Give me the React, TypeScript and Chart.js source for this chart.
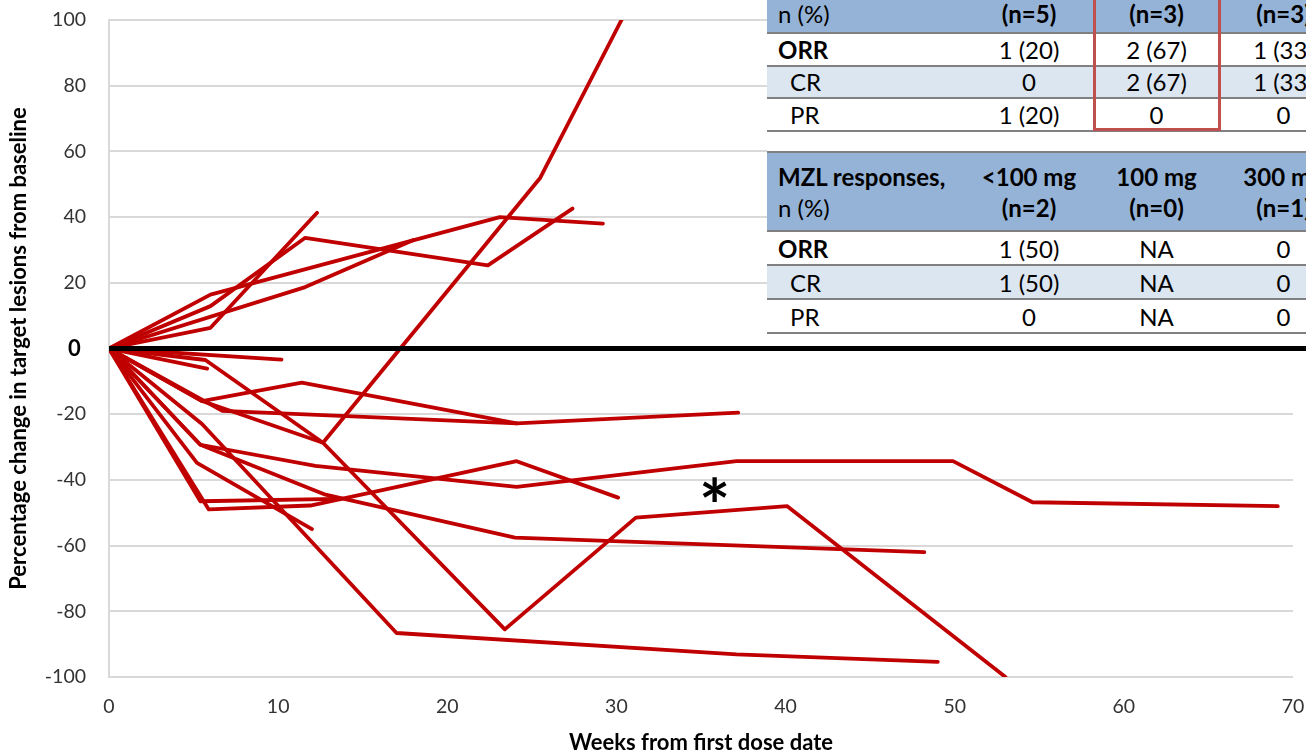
import React, { useEffect, useRef } from 'react';
import { Chart, registerables } from 'chart.js';

Chart.register(...registerables);

// ---- Axis ticks ----
const xTicks = [0, 10, 20, 30, 40, 50, 60, 70];
const yTicks = [-100, -80, -60, -40, -20, 0, 20, 40, 60, 80, 100];

// ---- Patient series: weeks from first dose / % change from baseline ----
const weeksA = [0, 6, 12.3];
const pctA = [0, 6.3, 41.3];
const weeksB = [0, 6, 11.6, 22.4, 27.4];
const pctB = [0, 12.9, 33.7, 25.3, 42.6];
const weeksC = [0, 11.6, 18];
const pctC = [0, 18.7, 33];
const weeksD = [0, 6, 23.1, 29.2];
const pctD = [0, 16.4, 40, 38];
const weeksE = [0, 10.2];
const pctE = [0, -3.4];
const weeksF = [0, 5.8];
const pctF = [0, -6.1];
const weeksG = [0, 5.7, 12.65, 25.5, 30.3];
const pctG = [0, -3.5, -28.7, 52, 100];
const weeksH = [0, 5.5, 11.4, 24.1];
const pctH = [0, -16, -10.4, -22.8];
const weeksI = [0, 6.7, 12.3, 24.1, 37.2];
const pctI = [0, -19, -20.2, -22.8, -19.5];
const weeksJ = [0, 5.5, 12.65, 23.4, 31.15, 40.1, 53];
const pctJ = [0, -16, -28.7, -85.5, -51.5, -48, -100];
const weeksK = [0, 5.4, 12.8, 24, 48.2];
const pctK = [0, -29.3, -44.5, -57.6, -62];
const weeksL = [0, 5.4, 12.2, 24.1, 37.1, 49.9, 54.6, 69.1];
const pctL = [0, -29.3, -35.7, -42.1, -34.3, -34.3, -46.8, -48];
const weeksM = [0, 5.4, 13.5];
const pctM = [0, -46.5, -45.8];
const weeksN = [0, 5.9, 11.9, 24.1, 30.1];
const pctN = [0, -49, -47.8, -34.3, -45.4];
const weeksO = [0, 5.2, 12];
const pctO = [0, -34.8, -55];
const weeksP = [0, 5.5, 17, 37.1, 49];
const pctP = [0, -23, -86.6, -93.1, -95.4];

const seriesWeeks = [weeksA, weeksB, weeksC, weeksD, weeksE, weeksF, weeksG, weeksH, weeksI, weeksJ, weeksK, weeksL, weeksM, weeksN, weeksO, weeksP];
const seriesPct = [pctA, pctB, pctC, pctD, pctE, pctF, pctG, pctH, pctI, pctJ, pctK, pctL, pctM, pctN, pctO, pctP];

// asterisk annotation (data coordinates)
const noteText = '*';
const noteWeek = 35.8;
const notePct = -43;

// ---- Tables ----
const fl_header = ['n (%)', '(n=5)', '(n=3)', '(n=3)'];
const fl_rows = [
  ['ORR', '1 (20)', '2 (67)', '1 (33)'],
  ['CR', '0', '2 (67)', '1 (33)'],
  ['PR', '1 (20)', '0', '0'],
];
const mzl_header1 = ['MZL responses,', '<100 mg', '100 mg', '300 mg'];
const mzl_header2 = ['n (%)', '(n=2)', '(n=0)', '(n=1)'];
const mzl_rows = [
  ['ORR', '1 (50)', 'NA', '0'],
  ['CR', '1 (50)', 'NA', '0'],
  ['PR', '0', 'NA', '0'],
];

const FONT = 'Lato, "Open Sans", sans-serif';
const COLS = [198, 128, 127, 127];
const HEADER_BG = '#95B3D7';
const ALT_BG = '#DCE6F1';
const LINE = '#808080';

function CellRow(props: { cells: string[]; top: number; height: number; bg: string; header?: boolean; align?: string }) {
  const { cells, top, height, bg, header } = props;
  return (
    <div style={{ position: 'absolute', left: 0, top, height, width: 580, background: bg, display: 'flex', alignItems: props.align || 'center' }}>
      {cells.map((c, i) => {
        const isLabel = i === 0;
        const bold = header ? i > 0 : c === 'ORR';
        const indent = !header && isLabel && (c === 'CR' || c === 'PR') ? 23 : 11;
        return (
          <div key={i} style={{ width: COLS[i], flex: 'none', boxSizing: 'border-box', paddingLeft: isLabel ? indent : 0, textAlign: isLabel ? 'left' : 'center', fontWeight: bold ? 700 : 400, whiteSpace: 'nowrap', lineHeight: '27px' }}>{c}</div>
        );
      })}
    </div>
  );
}

function HLine(props: { y: number }) {
  return <div style={{ position: 'absolute', left: 0, top: props.y - 1, width: 580, height: 2, background: LINE }} />;
}

function Tables() {
  const t1Tops = [34, 66, 99];
  const t1H = [31, 31, 31];
  const t2Tops = [232, 266, 300];
  const t2H = [32, 32, 32];
  return (
    <div style={{ position: 'absolute', left: 767, top: 0, width: 580, height: 334, background: '#fff', fontFamily: FONT, fontSize: 24, color: '#000' }}>
      {/* FL table */}
      <CellRow cells={fl_header} top={0} height={32} bg={HEADER_BG} header align="flex-start" />
      {fl_rows.map((r, i) => (
        <CellRow key={i} cells={r} top={t1Tops[i]} height={t1H[i]} bg={i === 1 ? ALT_BG : '#fff'} />
      ))}
      <HLine y={33} />
      <HLine y={65.5} />
      <HLine y={98} />
      <HLine y={130.5} />
      {/* MZL table */}
      <div style={{ position: 'absolute', left: 0, top: 153, height: 77, width: 580, background: HEADER_BG, display: 'flex', alignItems: 'center' }}>
        {mzl_header1.map((h, i) => (
          <div key={i} style={{ width: COLS[i], flex: 'none', boxSizing: 'border-box', paddingLeft: i === 0 ? 11 : 0, textAlign: i === 0 ? 'left' : 'center', whiteSpace: 'nowrap', lineHeight: '31px' }}>
            <div style={{ fontWeight: 700 }}>{h}</div>
            <div style={{ fontWeight: i === 0 ? 400 : 700 }}>{mzl_header2[i]}</div>
          </div>
        ))}
      </div>
      {mzl_rows.map((r, i) => (
        <CellRow key={i} cells={r} top={t2Tops[i]} height={t2H[i]} bg={i === 1 ? ALT_BG : '#fff'} />
      ))}
      <HLine y={152} />
      <HLine y={231} />
      <HLine y={265} />
      <HLine y={299} />
      <HLine y={333} />
      {/* highlight box */}
      <div style={{ position: 'absolute', left: 326, top: -10, width: 128, height: 141, border: '3px solid #C0504D', boxSizing: 'border-box' }} />
    </div>
  );
}

const zeroLinePlugin = {
  id: 'zeroLine',
  afterDatasetsDraw(chart: any) {
    const { ctx, chartArea, scales } = chart;
    const y = scales.y.getPixelForValue(0);
    ctx.save();
    ctx.strokeStyle = '#000';
    ctx.lineWidth = 5;
    ctx.beginPath();
    ctx.moveTo(chartArea.left, y);
    ctx.lineTo(chart.width, y);
    ctx.stroke();
    ctx.restore();
  },
};

const notePlugin = {
  id: 'note',
  afterDatasetsDraw(chart: any) {
    const { ctx, scales } = chart;
    const cx = scales.x.getPixelForValue(noteWeek);
    const cy = scales.y.getPixelForValue(notePct);
    ctx.save();
    ctx.font = `bold 100px ${FONT}`;
    const m = ctx.measureText(noteText);
    const h = (m.actualBoundingBoxAscent + m.actualBoundingBoxDescent) || 40;
    const size = (100 * 25) / h;
    ctx.font = `bold ${size}px ${FONT}`;
    const m2 = ctx.measureText(noteText);
    ctx.fillStyle = '#000';
    ctx.textAlign = 'center';
    ctx.textBaseline = 'alphabetic';
    ctx.fillText(noteText, cx, cy + (m2.actualBoundingBoxAscent - m2.actualBoundingBoxDescent) / 2);
    ctx.restore();
  },
};

const noPadding = (s: any) => {
  s.paddingTop = 0;
  s.paddingBottom = 0;
  s.paddingLeft = 0;
  s.paddingRight = 0;
};

export default function App() {
  const ref = useRef<HTMLCanvasElement | null>(null);

  useEffect(() => {
    if (!ref.current) return;
    const datasets = seriesWeeks.map((w, i) => ({
      label: 'Patient ' + (i + 1),
      data: w.map((x, j) => ({ x, y: seriesPct[i][j] })),
      showLine: true,
      borderColor: '#C00000',
      backgroundColor: '#C00000',
      borderWidth: 3.8,
      pointRadius: 0,
      pointHoverRadius: 0,
      tension: 0,
      borderCapStyle: 'round',
      borderJoinStyle: 'round',
    }));
    const chart = new Chart(ref.current, {
      type: 'scatter',
      data: { datasets: datasets as any },
      options: {
        animation: false,
        responsive: false,
        devicePixelRatio: 1,
        events: [],
        layout: { padding: { top: 20, right: 13, left: 0, bottom: 0 } },
        plugins: { legend: { display: false }, tooltip: { enabled: false } },
        scales: {
          x: {
            type: 'linear',
            min: xTicks[0],
            max: xTicks[xTicks.length - 1],
            afterBuildTicks: (s: any) => { s.ticks = xTicks.map((v) => ({ value: v })); },
            ticks: { padding: 18, color: '#333', font: { family: FONT, size: 19.5 }, callback: (v: any) => String(v) },
            grid: { display: false, drawTicks: false },
            border: { display: false },
            title: { display: true, text: 'Weeks from first dose date', color: '#000', font: { family: FONT, size: 22, weight: 'bold' }, padding: { top: 0, bottom: 0 } },
            afterFit: (s: any) => { s.height = 79; noPadding(s); },
          },
          y: {
            type: 'linear',
            min: yTicks[0],
            max: yTicks[yTicks.length - 1],
            afterBuildTicks: (s: any) => { s.ticks = yTicks.map((v) => ({ value: v })); },
            ticks: {
              padding: 23,
              color: (c: any) => (c.tick && c.tick.value === 0 ? '#000' : '#333'),
              font: (c: any) => (c.tick && c.tick.value === 0 ? { family: FONT, size: 22, weight: 'bold' } : { family: FONT, size: 19.5 }),
              callback: (v: any) => (v === 0 ? '0 ' : String(v)),
            },
            grid: { color: '#D9D9D9', lineWidth: 2, drawTicks: false },
            border: { display: true, color: '#D9D9D9', width: 2 },
            title: { display: true, text: 'Percentage change in target lesions from baseline', color: '#000', font: { family: FONT, size: 22, weight: 'bold' }, padding: { top: 6, bottom: 0 } },
            afterFit: (s: any) => { s.width = 109; noPadding(s); },
          },
        },
      } as any,
      plugins: [zeroLinePlugin, notePlugin],
    });
    return () => chart.destroy();
  }, []);

  return (
    <div style={{ position: 'absolute', left: 0, top: 0, width: 1306, height: 756, overflow: 'hidden', background: '#fff' }}>
      <canvas ref={ref} width={1306} height={756} style={{ position: 'absolute', left: 0, top: 0, width: 1306, height: 756 }} />
      <Tables />
    </div>
  );
}
